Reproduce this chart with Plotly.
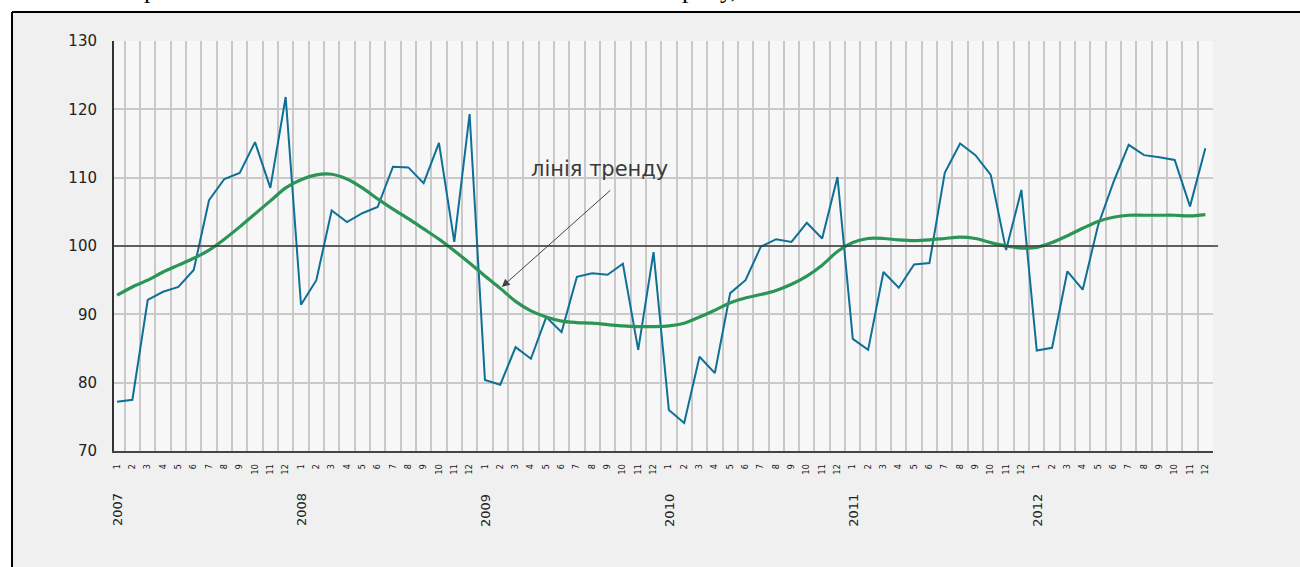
import plotly.graph_objects as go

years = [2007, 2008, 2009, 2010, 2011, 2012]
months = list(range(1, 13))

index_2007 = [77.2, 77.5, 92.1, 93.3, 94.0, 96.5, 106.7, 109.8, 110.7, 115.2, 108.5, 121.8]
index_2008 = [91.4, 95.0, 105.2, 103.5, 104.8, 105.7, 111.6, 111.5, 109.2, 115.1, 100.6, 119.3]
index_2009 = [80.4, 79.7, 85.2, 83.5, 89.6, 87.4, 95.5, 96.0, 95.8, 97.4, 84.8, 99.1]
index_2010 = [76.0, 74.1, 83.8, 81.4, 93.1, 95.0, 99.9, 101.0, 100.6, 103.4, 101.1, 110.1]
index_2011 = [86.4, 84.8, 96.2, 93.9, 97.3, 97.5, 110.7, 115.0, 113.3, 110.4, 99.4, 108.2]
index_2012 = [84.7, 85.1, 96.3, 93.6, 103.0, 109.3, 114.8, 113.3, 113.0, 112.6, 105.8, 114.3]

trend_2007 = [92.8, 94.0, 95.0, 96.2, 97.2, 98.2, 99.4, 101.0, 102.8, 104.7, 106.6, 108.5]
trend_2008 = [109.7, 110.4, 110.5, 109.8, 108.5, 106.9, 105.4, 104.0, 102.5, 101.0, 99.3, 97.5]
trend_2009 = [95.6, 93.8, 91.9, 90.5, 89.6, 89.0, 88.8, 88.7, 88.5, 88.3, 88.2, 88.2]
trend_2010 = [88.3, 88.7, 89.6, 90.6, 91.7, 92.4, 92.9, 93.5, 94.4, 95.6, 97.2, 99.2]
trend_2011 = [100.5, 101.1, 101.1, 100.9, 100.8, 100.9, 101.1, 101.3, 101.1, 100.5, 100.0, 99.7]
trend_2012 = [99.8, 100.5, 101.5, 102.6, 103.6, 104.2, 104.5, 104.5, 104.5, 104.5, 104.4, 104.6]

y_ticks = [70, 80, 90, 100, 110, 120, 130]
base_level = 100
annotation_text = "лінія тренду"

index_values = index_2007 + index_2008 + index_2009 + index_2010 + index_2011 + index_2012
trend_values = trend_2007 + trend_2008 + trend_2009 + trend_2010 + trend_2011 + trend_2012
month_labels = [str(m) for _ in years for m in months]
xs = list(range(len(month_labels)))

fig = go.Figure()
fig.add_trace(go.Scatter(x=xs, y=index_values, mode="lines",
                         line=dict(color="#106f97", width=2), hoverinfo="skip"))
fig.add_trace(go.Scatter(x=xs, y=trend_values, mode="lines",
                         line=dict(color="#2a9556", width=3.2, shape="spline", smoothing=0.8),
                         hoverinfo="skip"))

# frame: white strips top/left with black border lines
fig.add_shape(type="rect", xref="paper", yref="paper", x0=-0.2, x1=1.2, y0=1.0707, y1=1.2,
              fillcolor="white", line_width=0, layer="below")
fig.add_shape(type="rect", xref="paper", yref="paper", x0=-0.2, x1=-0.0928, y0=-0.4, y1=1.2,
              fillcolor="white", line_width=0, layer="below")
fig.add_shape(type="line", xref="paper", yref="paper", x0=-0.0928, x1=1.2, y0=1.0707, y1=1.0707,
              line=dict(color="black", width=2), layer="below")
fig.add_shape(type="line", xref="paper", yref="paper", x0=-0.0928, x1=-0.0928, y0=-0.4, y1=1.0707,
              line=dict(color="black", width=2), layer="below")

# reference line at 100
fig.add_shape(type="line", xref="paper", yref="y", x0=0, x1=1.0046, y0=base_level, y1=base_level,
              line=dict(color="#3a3a3a", width=1.3), layer="above")

for k, yr in enumerate(years):
    fig.add_annotation(x=k * 12, y=-0.144, xref="x", yref="paper", text=str(yr),
                       textangle=-90, showarrow=False, xanchor="center", yanchor="middle",
                       font=dict(family="DejaVu Sans", size=13, color="#222"))

fig.add_annotation(x=xs[25] + 0.1, y=94.0, xref="x", yref="y", text="", showarrow=True,
                   ax=110, ay=-98, arrowhead=2, arrowsize=1.6, arrowwidth=1, arrowcolor="#444")
fig.add_annotation(x=31.5, y=111.2, xref="x", yref="y", text=annotation_text, showarrow=False,
                   font=dict(family="DejaVu Sans", size=21, color="#3a3a3a"))

# cut-off text from the document above
fig.add_annotation(x=(150 - 114) / 1099, y=1.0854, xref="paper", yref="paper", text="р",
                   showarrow=False, xanchor="center", yanchor="bottom",
                   font=dict(family="Liberation Serif", size=26, color="black"))
fig.add_annotation(x=(680 - 114) / 1099, y=1.0854, xref="paper", yref="paper", text="рису,",
                   showarrow=False, xanchor="left", yanchor="bottom",
                   font=dict(family="Liberation Serif", size=26, color="black"))

fig.update_layout(
    width=1300, height=567,
    margin=dict(l=114, r=87, t=41, b=116, pad=0),
    paper_bgcolor="#f0f0f0", plot_bgcolor="#f7f7f7",
    showlegend=False,
    xaxis=dict(range=[-0.2, 71.5], tickmode="array", tickvals=xs, ticktext=month_labels,
               tickangle=-90, tickfont=dict(family="DejaVu Sans", size=8, color="#111"),
               ticks="outside", ticklen=8, tickcolor="rgba(0,0,0,0)",
               showgrid=False, zeroline=False,
               showline=True, linecolor="#444", linewidth=2,
               minor=dict(tickmode="linear", tick0=0.5, dtick=1, showgrid=True,
                          gridcolor="#c9c9c9", gridwidth=1.6, ticks="")),
    yaxis=dict(range=[70, 130], tickmode="array", tickvals=y_ticks,
               tickfont=dict(family="DejaVu Sans", size=15, color="#222"),
               ticks="outside", ticklen=12, tickcolor="rgba(0,0,0,0)",
               showgrid=True, gridcolor="#c9c9c9", gridwidth=1.6, zeroline=False,
               showline=True, linecolor="#333", linewidth=2),
)

fig.write_html("out.html", config={"displayModeBar": False},
               post_script="document.body.style.margin='0px';document.body.style.overflow='hidden';")
